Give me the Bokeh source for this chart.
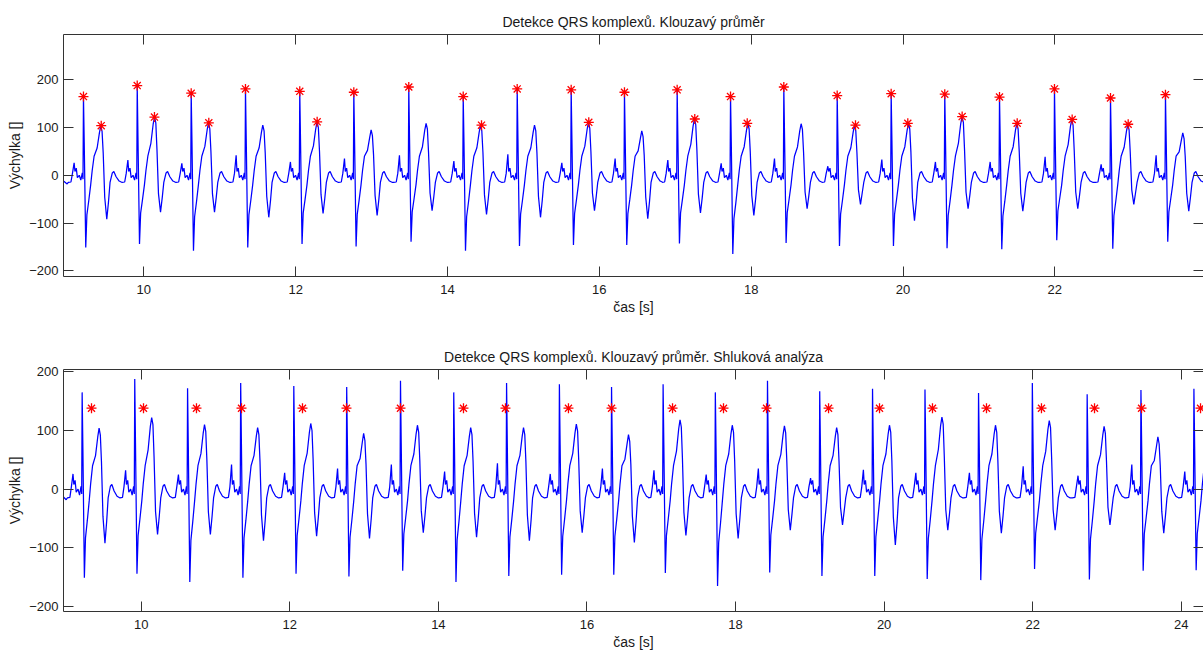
from bokeh.plotting import figure
from bokeh.models import LinearAxis, FixedTicker, Range1d, ColumnDataSource
from bokeh.layouts import column
from bokeh.embed import file_html
from bokeh.resources import INLINE

# ---------------- data ----------------
# R-peak time [s] and per-beat key amplitudes of the ECG trace
r_time = [9.205, 9.913, 10.624, 11.339, 12.054, 12.766, 13.490, 14.207, 14.918, 15.629, 16.331,
          17.025, 17.728, 18.430, 19.133, 19.844, 20.550, 21.271, 21.995, 22.733, 23.457, 24.170]
r_amp = [165, 188, 172, 181, 176, 174, 185, 165, 181, 179, 174,
         179, 165, 185, 167, 171, 170, 164, 181, 162, 169, 171]
s_amp = [-151, -144, -158, -151, -144, -149, -139, -158, -148, -146, -146,
         -143, -165, -142, -148, -148, -153, -155, -136, -154, -139, -138]
sec_amp = [104, 122, 110, 105, 112, 95, 109, 105, 105, 111, 93,
           118, 109, 108, 105, 109, 123, 109, 117, 107, 89, 100]
trough_amp = [-92, -77, -77, -88, -80, -84, -74, -82, -88, -74, -91,
              -79, -84, -70, -61, -95, -70, -75, -70, -61, -75, -70]
pre_amp = [26, 32, 25, 42, 28, 35, 42, 30, 44, 26, 35,
           32, 25, 35, 19, 33, 28, 28, 39, 23, 42, 30]

# trace before the first beat
lead_time = [8.90, 8.95, 8.99]
lead_val = [-8, -13, -18]

# shape of one beat: (offset from R [s], key, factor, constant)
beat_shape = [
    (-0.200, "-", 0, -15), (-0.165, "-", 0, -14), (-0.145, "-", 0, 4),
    (-0.123, "PRE", 1, 0), (-0.112, "-", 0, 8), (-0.095, "-", 0, 15),
    (-0.080, "-", 0, -5), (-0.055, "-", 0, 0), (-0.035, "-", 0, -10),
    (-0.015, "-", 0, 5), (-0.006, "-", 0, -8),
    (0.000, "R", 1, 0), (0.010, "R", 0.42, 0),
    (0.030, "S", 1, 0), (0.045, "S", 0.55, 0), (0.070, "S", 0.35, 0),
    (0.095, "-", 0, -20), (0.115, "-", 0, 10), (0.140, "-", 0, 40),
    (0.180, "SEC", 0.55, 0), (0.210, "SEC", 1, -15), (0.228, "SEC", 1, 0),
    (0.245, "SEC", 1, -12), (0.260, "SEC", 0.45, 0),
    (0.280, "TR", 0.5, 0), (0.307, "TR", 1, 0), (0.330, "TR", 0.6, 0),
    (0.350, "-", 0, -15), (0.380, "-", 0, 5), (0.400, "-", 0, 8),
    (0.430, "-", 0, -3), (0.470, "-", 0, -12), (0.510, "-", 0, -15),
]

# detections, upper plot (R peaks + secondary peaks)
sec_star_time = [9.439, 10.140, 10.856, 12.283, 14.448, 15.861, 17.257, 17.948,
                 19.374, 20.063, 20.779, 21.504, 22.228, 22.966]
sec_star_amp = [104, 122, 110, 112, 105, 111, 118, 109, 105, 109, 123, 109, 117, 107]

# detections, lower plot (cluster analysis)
cluster_time = [9.331, 10.031, 10.744, 11.350, 12.171, 12.763, 13.490, 14.338, 14.903, 15.751, 16.331,
                17.152, 17.838, 18.417, 19.252, 19.938, 20.651, 21.378, 22.118, 22.832, 23.465, 24.259]
cluster_amp = [138, 138, 138, 138, 138, 138, 138, 138, 138, 138, 138,
               138, 138, 138, 138, 138, 138, 138, 138, 138, 138, 138]

x_ticks_top = [10, 12, 14, 16, 18, 20, 22]
x_ticks_bottom = [10, 12, 14, 16, 18, 20, 22, 24]
y_ticks = [-200, -100, 0, 100, 200]

title_top = "Detekce QRS komplexů. Klouzavý průměr"
title_bottom = "Detekce QRS komplexů. Klouzavý průměr. Shluková analýza"
x_label = "čas [s]"
y_label = "Výchylka []"

# ---------------- build trace ----------------
sig_t = list(lead_time)
sig_v = list(lead_val)
for rt, R, S, SEC, TR, PRE in zip(r_time, r_amp, s_amp, sec_amp, trough_amp, pre_amp):
    keys = {"R": R, "S": S, "SEC": SEC, "TR": TR, "PRE": PRE, "-": 0}
    for off, key, f, c in beat_shape:
        sig_t.append(rt + off)
        sig_v.append(f * keys[key] + c)

sig_src = ColumnDataSource(dict(t=sig_t, v=sig_v))

FONT = "Liberation Sans"
AX_COL = "#333333"


def style_axis(ax, show_labels=True, show_line=True):
    ax.axis_line_color = AX_COL if show_line else None
    ax.axis_line_width = 1
    ax.major_tick_in = 10
    ax.major_tick_out = 0
    ax.major_tick_line_color = AX_COL
    ax.minor_tick_line_color = None
    ax.major_label_text_font = FONT
    ax.major_label_text_font_size = "13px"
    ax.major_label_text_color = "#1a1a1a"
    ax.major_label_standoff = 5
    ax.axis_label_text_font = FONT
    ax.axis_label_text_font_size = "14px"
    ax.axis_label_text_font_style = "normal"
    ax.axis_label_text_color = "#1a1a1a"
    if not show_labels:
        ax.major_label_text_color = None
        ax.major_label_standoff = 0


def make_fig(title, xr, yr, xticks, height, b_top, b_bottom):
    p = figure(width=1203, height=height, x_range=Range1d(*xr), y_range=Range1d(*yr),
               output_backend="svg", toolbar_location=None,
               min_border_left=63, min_border_right=0,
               min_border_top=b_top, min_border_bottom=b_bottom)
    p.outline_line_color = None
    p.xgrid.visible = False
    p.ygrid.visible = False
    p.background_fill_color = "white"
    p.border_fill_color = "white"
    p.title.text = title
    p.title.align = "center"
    p.title.text_font = FONT
    p.title.text_font_size = "14px"
    p.title.text_font_style = "normal"
    p.title.text_color = "#1a1a1a"
    p.title.standoff = 10

    p.xaxis.ticker = FixedTicker(ticks=xticks)
    p.yaxis.ticker = FixedTicker(ticks=y_ticks)
    for ax in p.xaxis:
        style_axis(ax)
        ax.major_label_standoff = 8
        ax.axis_label = x_label
        ax.axis_label_standoff = 2
    for ax in p.yaxis:
        style_axis(ax)
        ax.axis_label = y_label
        ax.axis_label_standoff = 3

    top_ax = LinearAxis(ticker=FixedTicker(ticks=xticks))
    style_axis(top_ax, show_labels=False)
    p.add_layout(top_ax, "above")
    right_ax = LinearAxis(ticker=FixedTicker(ticks=y_ticks))
    style_axis(right_ax, show_labels=False, show_line=False)
    p.add_layout(right_ax, "right")

    p.line("t", "v", source=sig_src, line_color="#0000ff", line_width=1.25)
    return p


STAR = dict(marker="asterisk", size=10, line_color="#ff0000", line_width=1.3)

p1 = make_fig(title_top, (8.942, 23.958), (-212, 295), x_ticks_top, 320, 34, 44)
p1.scatter(r_time, r_amp, **STAR)
p1.scatter(sec_star_time, sec_star_amp, **STAR)

p2 = make_fig(title_bottom, (8.954, 24.299), (-208.5, 204), x_ticks_bottom, 332, 49, 41)
p2.scatter(cluster_time, cluster_amp, **STAR)

layout = column(p1, p2, spacing=0)
open("out.html", "w").write(file_html(layout, INLINE))
